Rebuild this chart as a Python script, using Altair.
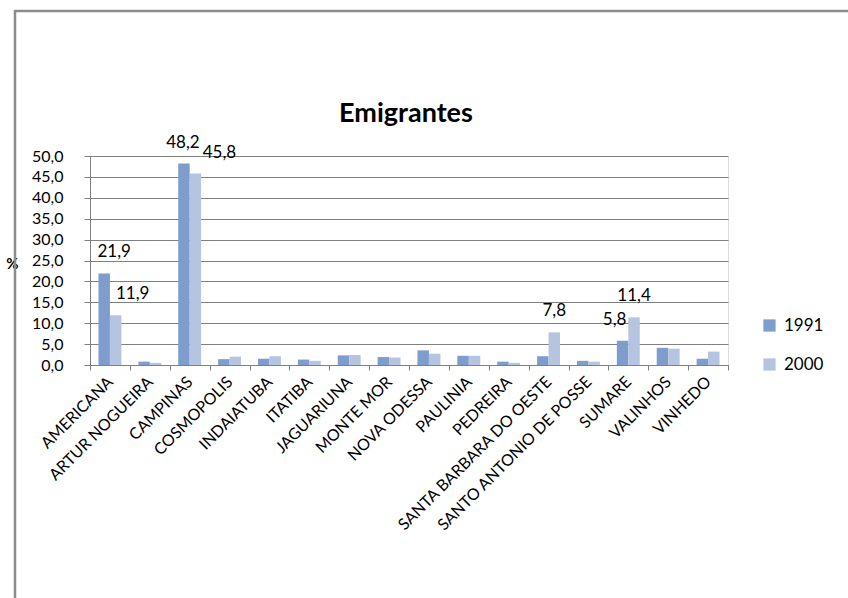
import altair as alt
import pandas as pd

cities = ["AMERICANA", "ARTUR NOGUEIRA", "CAMPINAS", "COSMOPOLIS", "INDAIATUBA",
          "ITATIBA", "JAGUARIUNA", "MONTE MOR", "NOVA ODESSA", "PAULINIA",
          "PEDREIRA", "SANTA BARBARA DO OESTE", "SANTO ANTONIO DE POSSE",
          "SUMARE", "VALINHOS", "VINHEDO"]
v1991 = [21.9, 0.8, 48.2, 1.4, 1.5, 1.3, 2.3, 1.9, 3.5, 2.2, 0.8, 2.1, 1.0, 5.8, 4.1, 1.5]
v2000 = [11.9, 0.5, 45.8, 2.0, 2.1, 1.0, 2.4, 1.8, 2.7, 2.2, 0.5, 7.8, 0.8, 11.4, 3.9, 3.2]
years = ["1991", "2000"]
colors = ["#7e9dcc", "#b5c5e1"]
y_ticks = [0, 5, 10, 15, 20, 25, 30, 35, 40, 45, 50]
title_text = "Emigrantes"

# labelled bars
label_cities = ["AMERICANA", "AMERICANA", "CAMPINAS", "CAMPINAS",
                "SANTA BARBARA DO OESTE", "SUMARE", "SUMARE"]
label_years = ["1991", "2000", "1991", "2000", "2000", "1991", "2000"]

rows = []
for c, a, b in zip(cities, v1991, v2000):
    rows.append({"city": c, "year": "1991", "value": a})
    rows.append({"city": c, "year": "2000", "value": b})
df = pd.DataFrame(rows)
df["label"] = df["value"].map(lambda v: f"{v:.1f}".replace(".", ","))

FONT = "Lato"
GRAY = "#808080"
W, H = 638, 209
LEFT, TOP = 90, 156

xenc = alt.X("city:N", sort=cities, title=None,
             scale=alt.Scale(paddingInner=0, paddingOuter=0),
             axis=alt.Axis(labelAngle=-45, labelAlign="right", labelBaseline="middle",
                           tickBand="extent", tickSize=5, tickColor=GRAY, grid=False,
                           domainColor=GRAY, labelFontSize=16, labelPadding=9,
                           labelLimit=400, labelOverlap=False, labelColor="#000000",
                           labelFont=FONT))
xoff = alt.XOffset("year:N", sort=years,
                   scale=alt.Scale(paddingOuter=0.74, paddingInner=0))

yenc = alt.Y("value:Q", scale=alt.Scale(domain=[0, 50], nice=False),
             axis=alt.Axis(values=y_ticks, grid=True, labelOverlap=False,
                           labelExpr="replace(format(datum.value, '.1f'), '.', ',')",
                           tickSize=6, tickColor=GRAY, domainColor=GRAY,
                           gridColor=GRAY, gridOpacity=1, labelPadding=21,
                           labelFontSize=16, labelColor="#000000", labelFont=FONT,
                           title="%", titleAngle=0, titleX=-78, titleY=107,
                           titleAlign="center", titleBaseline="middle",
                           titleFontSize=15, titleFontWeight="bold",
                           titleFont=FONT, titleColor="#000000"))

base = alt.Chart(df)

bars = base.mark_bar().encode(
    x=xenc, xOffset=xoff, y=yenc,
    color=alt.Color("year:N", sort=years,
                    scale=alt.Scale(domain=years, range=colors),
                    legend=alt.Legend(orient="none", legendX=671, legendY=161,
                                      title=None, symbolType="square",
                                      symbolSize=150, symbolStrokeWidth=0,
                                      labelFontSize=17, labelFont=FONT,
                                      labelColor="#000000", rowPadding=21,
                                      labelOffset=6)),
)

nudges = [10, 17, -1, 24, 0, -8, 0]
label_layers = []
for c, yr, dx in zip(label_cities, label_years, nudges):
    sub = df[(df["city"] == c) & (df["year"] == yr)]
    label_layers.append(
        alt.Chart(sub).mark_text(dx=dx, dy=-21, fontSize=17, font=FONT,
                                 color="#000000", baseline="middle").encode(
            x=xenc, xOffset=xoff, y=yenc, text="label:N")
    )

one = pd.DataFrame({"t": [title_text]})
frame = alt.Chart(one).mark_rect(
    filled=False, stroke="#8c8c8c", strokeWidth=2.5).encode(
    x=alt.value(15 - LEFT), x2=alt.value(1000),
    y=alt.value(11 - TOP), y2=alt.value(1000))

title = alt.Chart(one).mark_text(fontSize=27, fontWeight="bold", font=FONT,
                                 color="#000000", baseline="alphabetic",
                                 align="center").encode(
    x=alt.value(W / 2 - 3), y=alt.value(122 - TOP), text="t:N")

chart = alt.layer(frame, bars, *label_layers, title).properties(
    width=W, height=H,
    autosize=alt.AutoSizeParams(type="none"),
    padding={"left": LEFT, "top": TOP, "right": 848 - LEFT - W,
             "bottom": 598 - TOP - H},
).configure_view(stroke="transparent", strokeWidth=0).configure(background="#ffffff")

chart.save("out.html", embed_options={"renderer": "svg", "actions": False})
